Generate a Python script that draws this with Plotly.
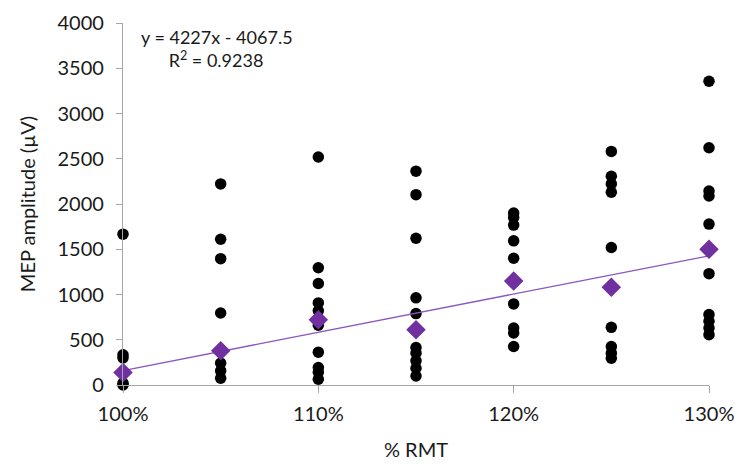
import plotly.graph_objects as go

# Data
rmt_levels = [1.00, 1.05, 1.10, 1.15, 1.20, 1.25, 1.30]
individual_amps = [
    [1667, 333, 300, 20, 0],
    [2222, 1611, 1396, 796, 241, 156, 74],
    [2519, 1296, 1122, 907, 820, 660, 363, 193, 141, 63],
    [2363, 2103, 1622, 963, 789, 414, 352, 267, 185, 100],
    [1900, 1852, 1767, 1593, 1400, 896, 630, 574, 426],
    [2581, 2307, 2222, 2130, 1519, 637, 426, 352, 296],
    [3356, 2622, 2144, 2089, 1778, 1230, 778, 704, 630, 556],
]
mean_amps = [137, 378, 722, 611, 1148, 1081, 1500]
trend_slope = 4227
trend_intercept = -4067.5
x_tickvals = [1.0, 1.1, 1.2, 1.3]
x_ticktext = ["100%", "110%", "120%", "130%"]

xs, ys = [], []
for lvl, vals in zip(rmt_levels, individual_amps):
    for v in vals:
        xs.append(lvl)
        ys.append(v)

trend_x = [rmt_levels[0], rmt_levels[-1]]
trend_y = [trend_slope * x + trend_intercept for x in trend_x]

purple = "#7030A0"
font_family = "Lato, 'Open Sans', sans-serif"
text_color = "#1a1a1a"

fig = go.Figure()
fig.add_trace(go.Scatter(x=xs, y=ys, mode="markers",
                         marker=dict(color="black", size=11.5, symbol="circle"),
                         showlegend=False, cliponaxis=False))
fig.add_trace(go.Scatter(x=trend_x, y=trend_y, mode="lines",
                         line=dict(color="#8a55c0", width=1.3),
                         showlegend=False, cliponaxis=False))
fig.add_trace(go.Scatter(x=rmt_levels, y=mean_amps, mode="markers",
                         marker=dict(color=purple, size=15, symbol="diamond"),
                         showlegend=False, cliponaxis=False))

fig.add_annotation(x=0.028, y=3985, xref="x domain", yref="y",
                   text="y = 4227x - 4067.5<br>      R<sup>2</sup> = 0.9238",
                   showarrow=False, xanchor="left", yanchor="top", align="left",
                   font=dict(family=font_family, size=18, color=text_color))

fig.update_layout(
    width=737, height=468,
    margin=dict(l=123, r=28, t=23, b=83, autoexpand=False),
    paper_bgcolor="white", plot_bgcolor="white",
    font=dict(family=font_family, size=20, color=text_color),
    xaxis=dict(range=[1.0, 1.3], tickvals=x_tickvals, ticktext=x_ticktext,
               automargin=False,
               showgrid=False, zeroline=False, showline=True,
               linecolor="#A6A6A6", linewidth=1.2,
               ticks="outside", ticklen=7, tickcolor="#A6A6A6",
               ticklabelstandoff=4,
               title=dict(text="% RMT", font=dict(size=20), standoff=18),
               tickfont=dict(size=20)),
    yaxis=dict(range=[0, 4000], dtick=500,
               automargin=False,
               showgrid=False, zeroline=False, showline=True,
               linecolor="#A6A6A6", linewidth=1.2,
               ticks="outside", ticklen=6, tickcolor="#A6A6A6",
               ticklabelstandoff=8,
               title=dict(text="MEP amplitude (µV)", font=dict(size=20), standoff=16),
               tickfont=dict(size=20)),
)

fig.write_html("out.html")
